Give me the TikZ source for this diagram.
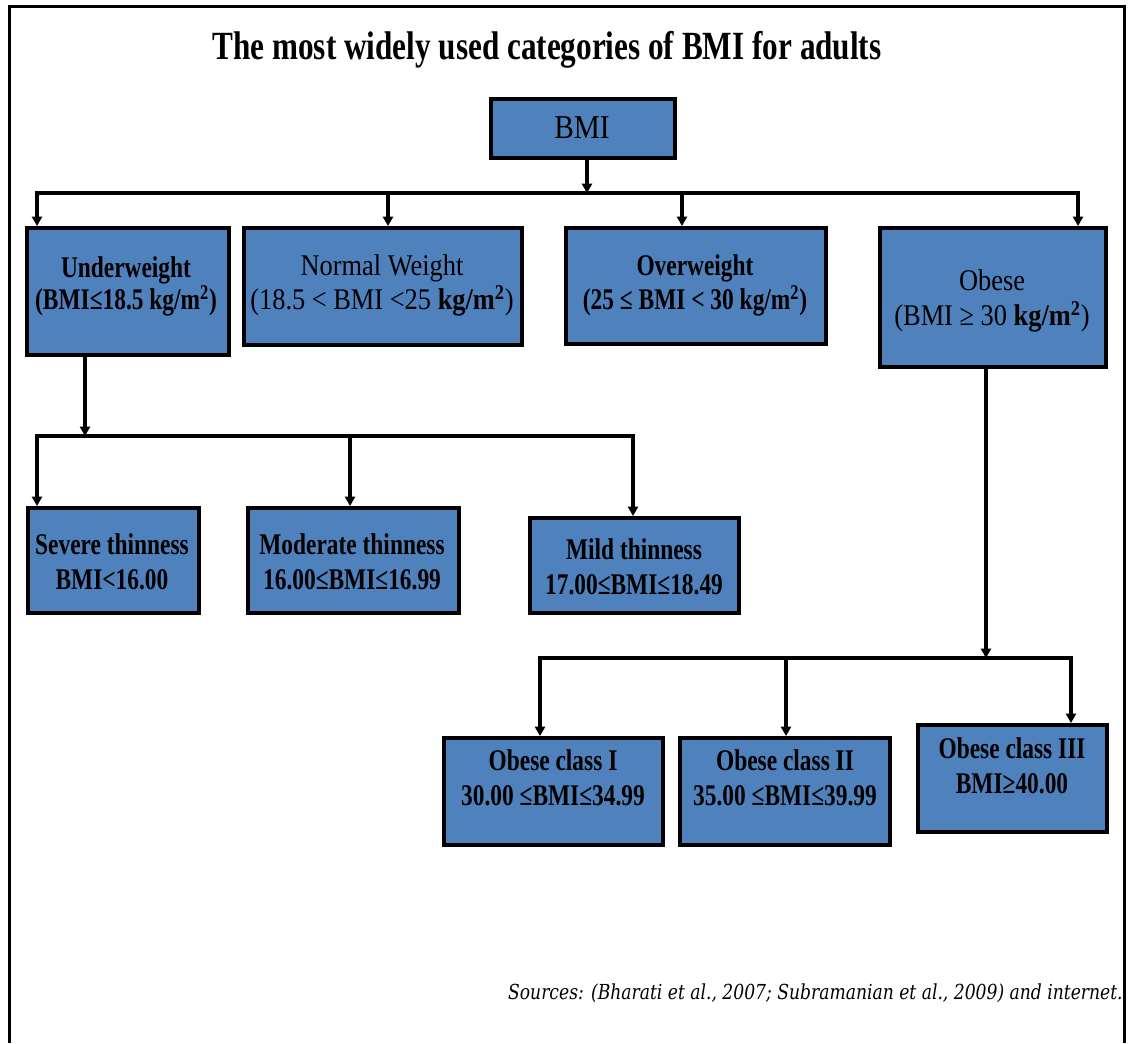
\documentclass[tikz,border=0pt]{standalone}
\usepackage{fontspec}
\setmainfont{Liberation Serif}
\newfontfamily\boxfont[FakeStretch=0.78]{Liberation Serif}
\newfontfamily\regfont[FakeStretch=0.88]{Liberation Serif}
\newfontfamily\titlefont[FakeStretch=0.78]{Liberation Serif}
\newfontfamily\srcfont[FakeStretch=0.83]{DejaVu Serif}
\usetikzlibrary{arrows.meta}
\definecolor{boxblue}{RGB}{79,129,189}
\tikzset{
  box/.style={draw=black, line width=3pt, fill=boxblue, inner sep=0pt},
  sz/.style 2 args={minimum width=#1*0.75pt, minimum height=#2*0.75pt},
  btext/.style={align=center, inner sep=0pt, font=\boxfont\bfseries\fontsize{22.5}{26}\selectfont},
  rtext/.style={align=center, inner sep=0pt, font=\regfont\fontsize{22.5}{26}\selectfont},
  conn/.style={line width=2.5pt, line cap=rect},
  arr/.style={line width=2.5pt, -{Triangle[length=7pt,width=7.5pt]}},
  frame/.style={line width=2pt},
}
\begin{document}
\begin{tikzpicture}[x=0.75pt,y=-0.75pt]
\useasboundingbox (0,0) rectangle (1128,1043);
% outer frame
\draw[frame] (9.5,1043) -- (9.5,6.5) -- (1124.5,6.5) -- (1124.5,1043);
% title
\node[inner sep=0pt, font=\titlefont\bfseries\fontsize{30}{36}\selectfont] (title) at (547,50) {The most widely used categories of BMI for adults};
% boxes
\node[box, sz={184}{59}] (bmi) at (583,128.5) {};
\node[box, sz={202}{127}] (under) at (128,291.5) {};
\node[box, sz={278}{117}] (normal) at (383,286.5) {};
\node[box, sz={260}{116}] (over) at (696,286) {};
\node[box, sz={226}{139}] (obese) at (993,297.5) {};
\node[box, sz={171}{105}] (severe) at (113.5,560.5) {};
\node[box, sz={211}{105}] (moderate) at (353.5,560.5) {};
\node[box, sz={209}{95}] (mild) at (634.5,565.5) {};
\node[box, sz={219}{107}] (cI) at (553.5,791.5) {};
\node[box, sz={210}{107}] (cII) at (785,791.5) {};
\node[box, sz={189}{107}] (cIII) at (1012.5,778.5) {};
% texts
\node[rtext, font=\regfont\fontsize{25}{30}\selectfont] (bmi-t) at (582,128) {BMI};
\node[btext, font=\boxfont\bfseries\fontsize{22.5}{21}\selectfont] (under-t) at (126,286) {Underweight\\(BMI≤18.5 kg/m\textsuperscript{2})};
\node[rtext] (normal-t) at (382,285.5) {Normal Weight\\(18.5 < BMI <25 \textbf{kg/m\textsuperscript{2}})};
\node[btext] (over-t) at (695,285.5) {Overweight\\(25 ≤ BMI < 30 kg/m\textsuperscript{2})};
\node[rtext] (obese-t) at (992,301) {Obese\\(BMI ≥ 30 \textbf{kg/m\textsuperscript{2}})};
\node[btext] (severe-t) at (112,562) {Severe thinness\\BMI<16.00};
\node[btext] (moderate-t) at (352,562) {Moderate thinness\\16.00≤BMI≤16.99};
\node[btext] (mild-t) at (634,566.5) {Mild thinness\\17.00≤BMI≤18.49};
\node[btext] (cI-t) at (553,778) {Obese class I\\30.00 ≤BMI≤34.99};
\node[btext] (cII-t) at (785,778) {Obese class II\\35.00 ≤BMI≤39.99};
\node[btext] (cIII-t) at (1012,766) {Obese class III\\BMI≥40.00};
% source
\node[anchor=east, inner sep=0pt, font=\srcfont\itshape\fontsize{15.5}{18}\selectfont] (src) at (1123,993) {Sources: (Bharati et al., 2007; Subramanian et al., 2009) and internet.};
% level 1 connectors
\coordinate (b1) at (587,193);
\coordinate (b1L) at (37,193);
\coordinate (b1N) at (388,193);
\coordinate (b1O) at (682,193);
\coordinate (b1R) at (1078,193);
\draw[arr] (bmi.south -| b1) -- (b1);
\draw[conn] (b1L) -- (b1R);
\draw[arr] (b1L) -- (b1L |- under.north);
\draw[arr] (b1N) -- (b1N |- normal.north);
\draw[arr] (b1O) -- (b1O |- over.north);
\draw[arr] (b1R) -- (b1R |- obese.north);
% underweight branch
\coordinate (b2) at (85,436);
\coordinate (b2L) at (37,436);
\coordinate (b2M) at (350,436);
\coordinate (b2R) at (633,436);
\draw[arr] (under.south -| b2) -- (b2);
\draw[conn] (b2L) -- (b2R);
\draw[arr] (b2L) -- (b2L |- severe.north);
\draw[arr] (b2M) -- (b2M |- moderate.north);
\draw[arr] (b2R) -- (b2R |- mild.north);
% obese branch
\coordinate (b3) at (986,658);
\coordinate (b3L) at (540,658);
\coordinate (b3M) at (786,658);
\coordinate (b3R) at (1071,658);
\draw[arr] (obese.south -| b3) -- (b3);
\draw[conn] (b3L) -- (b3R);
\draw[arr] (b3L) -- (b3L |- cI.north);
\draw[arr] (b3M) -- (b3M |- cII.north);
\draw[arr] (b3R) -- (b3R |- cIII.north);
\end{tikzpicture}
\end{document}
